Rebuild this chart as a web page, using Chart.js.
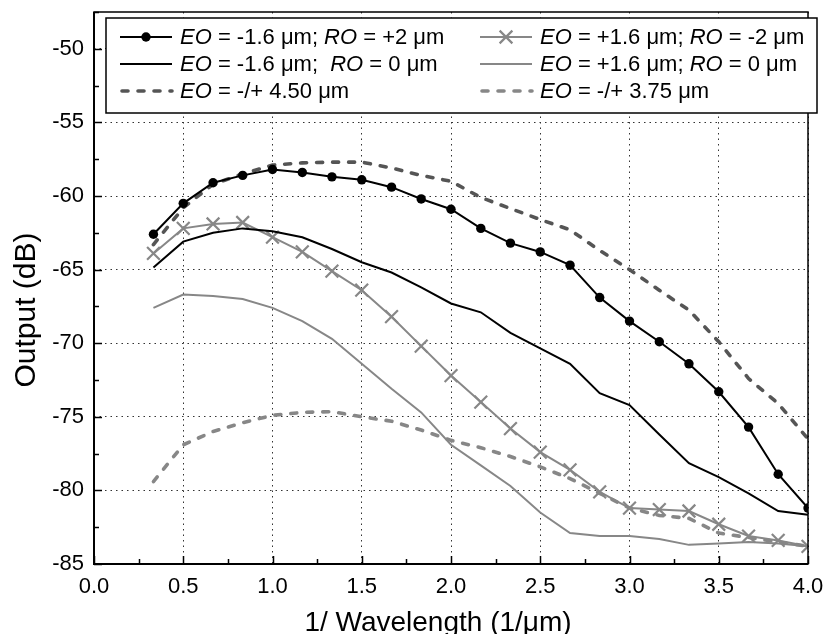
<!DOCTYPE html>
<html>
<head>
<meta charset="utf-8">
<script src="https://cdn.jsdelivr.net/npm/chart.js@4/dist/chart.umd.min.js"></script>
<style>
  html, body { margin: 0; padding: 0; background: #fff; }
  #wrap { width: 826px; height: 634px; }
</style>
</head>
<body>
<div id="wrap"><canvas id="grafico" width="826" height="634"></canvas></div>
<script>
// 1/wavelength sampling points (1/um)
const waveNumber = [0.333, 0.5, 0.667, 0.833, 1.0, 1.167, 1.333, 1.5, 1.667, 1.833, 2.0, 2.167,
  2.333, 2.5, 2.667, 2.833, 3.0, 3.167, 3.333, 3.5, 3.667, 3.833, 4.0];

// output in dB for each offset case
const eoNeg16RoPos2 = [-62.6, -60.5, -59.1, -58.6, -58.2, -58.4, -58.7, -58.9, -59.4, -60.2, -60.9, -62.2,
  -63.2, -63.8, -64.7, -66.9, -68.5, -69.9, -71.4, -73.3, -75.7, -78.9, -81.2];
const eoNeg16Ro0 = [-64.85, -63.1, -62.5, -62.2, -62.4, -62.8, -63.6, -64.5, -65.2, -66.2, -67.3, -67.9,
  -69.3, -70.35, -71.4, -73.4, -74.2, -76.2, -78.15, -79.1, -80.2, -81.4, -81.65];
const eoPos16RoNeg2 = [-63.9, -62.2, -61.9, -61.8, -62.8, -63.8, -65.1, -66.4, -68.2, -70.2, -72.2, -74.0,
  -75.8, -77.4, -78.6, -80.1, -81.2, -81.3, -81.4, -82.3, -83.1, -83.4, -83.8];
const eoPos16Ro0 = [-67.6, -66.7, -66.8, -67.0, -67.6, -68.5, -69.7, -71.4, -73.1, -74.7, -76.9, -78.3,
  -79.7, -81.5, -82.9, -83.1, -83.1, -83.3, -83.7, -83.6, -83.5, -83.6, -83.8];
const eo450 = [-63.3, -60.8, -59.2, -58.5, -57.9, -57.75, -57.7, -57.7, -58.1, -58.6, -59.0, -60.1,
  -60.85, -61.6, -62.3, -63.7, -65.0, -66.4, -67.75, -69.9, -72.4, -74.1, -76.5];
const eo375 = [-79.4, -76.9, -76.0, -75.4, -74.9, -74.7, -74.65, -75.0, -75.3, -75.9, -76.6, -77.1,
  -77.7, -78.4, -79.2, -80.2, -81.2, -81.7, -81.9, -82.9, -83.2, -83.5, -83.8];

// axis ranges, tick steps and titles
const xRange = [0, 4];
const yRange = [-85, -47.5];
const xStep = 0.5;
const yStep = 5;
const xTitulo = '1/ Wavelength (1/\u03bcm)';
const yTitulo = 'Output (dB)';

const FONT = '"Liberation Sans", Arial, sans-serif';
const GRIS = '#878787';

function puntos(valores) {
  return valores.map((v, i) => ({ x: waveNumber[i], y: v }));
}

// legend text split in plain / italic pieces
const leyenda = [
  { ds: 0, col: 0, fila: 0, partes: [['EO', 1], [' = -1.6 \u03bcm; ', 0], ['RO', 1], [' = +2 \u03bcm', 0]] },
  { ds: 2, col: 1, fila: 0, partes: [['EO', 1], [' = +1.6 \u03bcm; ', 0], ['RO', 1], [' = -2 \u03bcm', 0]] },
  { ds: 1, col: 0, fila: 1, partes: [['EO', 1], [' = -1.6 \u03bcm;  ', 0], ['RO', 1], [' = 0 \u03bcm', 0]] },
  { ds: 3, col: 1, fila: 1, partes: [['EO', 1], [' = +1.6 \u03bcm; ', 0], ['RO', 1], [' = 0 \u03bcm', 0]] },
  { ds: 4, col: 0, fila: 2, partes: [['EO', 1], [' = -/+ 4.50 \u03bcm', 0]] },
  { ds: 5, col: 1, fila: 2, partes: [['EO', 1], [' = -/+ 3.75 \u03bcm', 0]] }
];

function dibujarMarca(ctx, ds, cx, cy) {
  if (!ds.pointRadius) return;
  const r = ds.pointRadius;
  ctx.save();
  ctx.setLineDash([]);
  if (ds.pointStyle === 'crossRot') {
    ctx.strokeStyle = ds.pointBorderColor;
    ctx.lineWidth = ds.pointBorderWidth;
    const d = r * Math.SQRT1_2;
    ctx.beginPath();
    ctx.moveTo(cx - d, cy - d); ctx.lineTo(cx + d, cy + d);
    ctx.moveTo(cx - d, cy + d); ctx.lineTo(cx + d, cy - d);
    ctx.stroke();
  } else {
    ctx.fillStyle = ds.pointBackgroundColor;
    ctx.beginPath();
    ctx.arc(cx, cy, r, 0, Math.PI * 2);
    ctx.fill();
  }
  ctx.restore();
}

// frame, inward ticks, axis titles and boxed legend
const marcoYLeyenda = {
  id: 'marcoYLeyenda',
  afterDraw(chart) {
    const ctx = chart.ctx;
    const a = chart.chartArea;
    const xs = chart.scales.x;
    const ys = chart.scales.y;
    ctx.save();
    ctx.strokeStyle = '#000';
    ctx.setLineDash([]);

    // ticks pointing into the plot
    ctx.lineWidth = 1.5;
    ctx.beginPath();
    for (let v = xRange[0]; v <= xRange[1] + 1e-9; v += xStep / 2) {
      const px = Math.round(xs.getPixelForValue(v)) + 0.5;
      const largo = (Math.abs(v / xStep - Math.round(v / xStep)) < 1e-6) ? 8 : 5;
      ctx.moveTo(px, a.bottom); ctx.lineTo(px, a.bottom - largo);
    }
    for (let v = yRange[0]; v <= yRange[1] + 1e-9; v += yStep / 2) {
      const py = Math.round(ys.getPixelForValue(v)) + 0.5;
      const largo = (Math.abs(v / yStep - Math.round(v / yStep)) < 1e-6) ? 8 : 5;
      ctx.moveTo(a.left, py); ctx.lineTo(a.left + largo, py);
    }
    ctx.stroke();

    // plot frame
    ctx.lineWidth = 1.5;
    ctx.strokeRect(a.left, a.top, a.right - a.left, a.bottom - a.top);
    ctx.lineWidth = 2;
    ctx.beginPath();
    ctx.moveTo(a.left, a.top); ctx.lineTo(a.left, a.bottom); ctx.lineTo(a.right, a.bottom);
    ctx.stroke();

    // axis titles
    ctx.fillStyle = '#000';
    ctx.textAlign = 'center';
    ctx.textBaseline = 'alphabetic';
    ctx.font = '28px ' + FONT;
    ctx.fillText(xTitulo, a.left + 344, 631);
    ctx.save();
    ctx.translate(35, a.top + 298);
    ctx.rotate(-Math.PI / 2);
    ctx.font = '30px ' + FONT;
    ctx.fillText(yTitulo, 0, 0);
    ctx.restore();

    // legend box
    const bx = a.left + 12, by = a.top + 6, bw = 711, bh = 95;
    ctx.fillStyle = '#fff';
    ctx.fillRect(bx, by, bw, bh);
    ctx.lineWidth = 1.5;
    ctx.strokeRect(bx, by, bw, bh);

    const colX = [bx + 14, bx + 374];
    ctx.textAlign = 'left';
    ctx.textBaseline = 'middle';
    leyenda.forEach(item => {
      const ds = chart.data.datasets[item.ds];
      const x0 = colX[item.col];
      const y0 = by + 19 + item.fila * 27;
      ctx.save();
      ctx.strokeStyle = ds.borderColor;
      ctx.lineWidth = ds.borderWidth;
      ctx.lineCap = ds.borderCapStyle || 'butt';
      ctx.setLineDash(ds.borderDash || []);
      ctx.beginPath();
      ctx.moveTo(x0 + (ds.borderDash ? 2 : 0), y0);
      ctx.lineTo(x0 + 52, y0);
      ctx.stroke();
      ctx.restore();
      dibujarMarca(ctx, ds, x0 + 26, y0);

      let tx = x0 + 60;
      ctx.fillStyle = '#000';
      item.partes.forEach(([t, it]) => {
        ctx.font = (it ? 'italic ' : '') + '22px ' + FONT;
        ctx.fillText(t, tx, y0 + 1);
        tx += ctx.measureText(t).width;
      });
    });
    ctx.restore();
  }
};

const ctx = document.getElementById('grafico').getContext('2d');
new Chart(ctx, {
  type: 'line',
  data: {
    datasets: [
      {
        label: 'EO = -1.6 \u03bcm; RO = +2 \u03bcm',
        data: puntos(eoNeg16RoPos2),
        borderColor: '#000', borderWidth: 2,
        pointRadius: 4.7, pointStyle: 'circle',
        pointBackgroundColor: '#000', pointBorderColor: '#000', pointBorderWidth: 0
      },
      {
        label: 'EO = -1.6 \u03bcm;  RO = 0 \u03bcm',
        data: puntos(eoNeg16Ro0),
        borderColor: '#000', borderWidth: 2, pointRadius: 0
      },
      {
        label: 'EO = +1.6 \u03bcm; RO = -2 \u03bcm',
        data: puntos(eoPos16RoNeg2),
        borderColor: GRIS, borderWidth: 2,
        pointRadius: 9, pointStyle: 'crossRot',
        pointBackgroundColor: GRIS, pointBorderColor: GRIS, pointBorderWidth: 2.2
      },
      {
        label: 'EO = +1.6 \u03bcm; RO = 0 \u03bcm',
        data: puntos(eoPos16Ro0),
        borderColor: GRIS, borderWidth: 2, pointRadius: 0
      },
      {
        label: 'EO = -/+ 4.50 \u03bcm',
        data: puntos(eo450),
        borderColor: '#555', borderWidth: 3.6, borderDash: [6, 10], borderCapStyle: 'round',
        pointRadius: 0
      },
      {
        label: 'EO = -/+ 3.75 \u03bcm',
        data: puntos(eo375),
        borderColor: GRIS, borderWidth: 3.6, borderDash: [6, 10], borderCapStyle: 'round',
        pointRadius: 0
      }
    ]
  },
  options: {
    responsive: false,
    animation: false,
    layout: { padding: { left: 0, right: 18, top: 12, bottom: 0 } },
    plugins: { legend: { display: false }, tooltip: { enabled: false } },
    elements: { line: { tension: 0, fill: false } },
    scales: {
      x: {
        type: 'linear',
        min: xRange[0], max: xRange[1],
        afterFit(scale) {
          scale.height = 70;
          scale.paddingLeft = 0;
          scale.paddingRight = 0;
        },
        ticks: {
          stepSize: xStep,
          padding: 10,
          color: '#000',
          font: { family: FONT, size: 22 },
          callback: v => Number(v).toFixed(1)
        },
        grid: { color: '#333', lineWidth: 1, drawTicks: false },
        border: { display: false, dash: [1.5, 4] }
      },
      y: {
        min: yRange[0], max: yRange[1],
        afterFit(scale) {
          scale.width = 94;
          scale.paddingTop = 0;
          scale.paddingBottom = 0;
        },
        afterBuildTicks(scale) {
          scale.ticks = scale.ticks.filter(t => Math.abs(t.value % yStep) < 1e-6);
        },
        ticks: {
          stepSize: yStep,
          padding: 10,
          color: '#000',
          font: { family: FONT, size: 22 }
        },
        grid: { color: '#333', lineWidth: 1, drawTicks: false },
        border: { display: false, dash: [1.5, 4] }
      }
    }
  },
  plugins: [marcoYLeyenda]
});
</script>
</body>
</html>
